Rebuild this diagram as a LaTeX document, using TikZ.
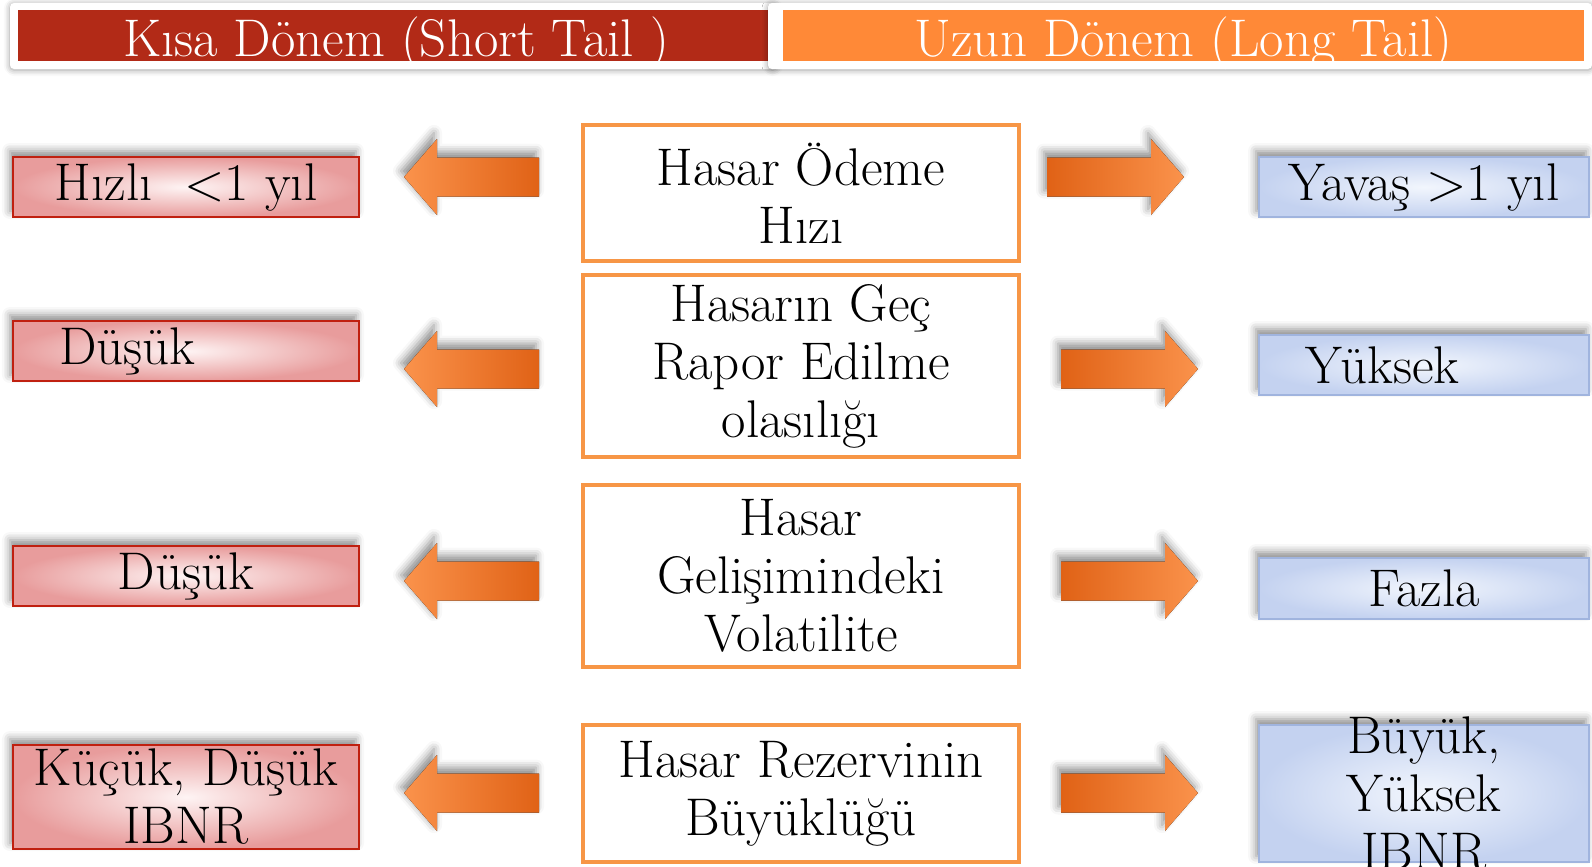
\documentclass[tikz,border=0pt]{standalone}
\usepackage{fontspec}
\usetikzlibrary{shadows.blur}

\definecolor{hdrRed}{RGB}{178,42,23}
\definecolor{hdrOrange}{RGB}{255,137,55}
\definecolor{boxRed}{RGB}{192,32,16}
\definecolor{pinkOut}{RGB}{232,156,156}
\definecolor{pinkIn}{RGB}{254,244,244}
\definecolor{blueOut}{RGB}{196,210,240}
\definecolor{blueIn}{RGB}{242,246,253}
\definecolor{blueLine}{RGB}{160,180,222}
\definecolor{ctrLine}{RGB}{247,150,70}
\definecolor{arrDark}{RGB}{224,98,22}
\definecolor{arrLight}{RGB}{255,155,85}

\tikzset{
  txt/.style={font=\fontsize{26.5}{29}\selectfont, align=center, inner sep=0pt},
  hdr/.style={font=\fontsize{26.5}{28}\selectfont, text=white, inner sep=0pt,
    text height=23pt, text depth=2.5pt, minimum height=25.5pt},
  frame/.style={fill=white, rounded corners=2pt,
    blur shadow={shadow xshift=0pt, shadow yshift=-0.5pt, shadow blur radius=3pt}},
  softshadow/.style={blur shadow={shadow xshift=-1.5pt, shadow yshift=3pt,
    shadow blur radius=4pt, shadow opacity=45}},
  kisabox/.style={txt, softshadow, draw=boxRed, line width=0.9pt,
    inner color=pinkIn, outer color=pinkOut, minimum width=173pt},
  uzunbox/.style={txt, softshadow, draw=blueLine, line width=0.9pt,
    inner color=blueIn, outer color=blueOut, minimum width=165pt},
  ortabox/.style={txt, draw=ctrLine, line width=1.6pt, fill=white,
    minimum width=218pt},
  okL/.style={softshadow, left color=arrLight!85!arrDark, middle color=arrLight,
    right color=arrDark},
  okR/.style={softshadow, left color=arrDark, middle color=arrLight,
    right color=arrLight!85!arrDark},
}

\begin{document}
\begin{tikzpicture}[x=0.5pt, y=-0.5pt]
  \useasboundingbox (0,0) rectangle (1592,867);
  % headers
  \fill[frame] (10,3) rectangle (777,69);
  \node[hdr, fill=hdrRed, minimum width=378pt] (kisaHdr) at (396,35.5)
    {Kısa Dönem (Short Tail )};
  \fill[frame] (768,3) rectangle (1592,69);
  \node[hdr, fill=hdrOrange, minimum width=400.5pt] (uzunHdr) at (1183.5,35.5)
    {Uzun Dönem (Long Tail)};
  % centre column
  \node[ortabox, minimum height=68pt] (hiz) at (801,193) {Hasar Ödeme\\Hızı};
  \node[ortabox, minimum height=91pt] (gec) at (801,366)
    {Hasarın Geç\\Rapor Edilme\\olasılığı};
  \node[ortabox, minimum height=91pt] (vol) at (801,576)
    {Hasar\\Gelişimindeki\\Volatilite};
  \node[ortabox, minimum height=68.5pt] (rez) at (801,793.5)
    {Hasar Rezervinin\\Büyüklüğü};
  % short tail column
  \node[kisabox, minimum height=30pt] (kHiz) at (186,187) {Hızlı~ <1 yıl};
  \node[kisabox, minimum height=30pt, text width=127pt, align=left] (kGec)
    at (186,351) {Düşük};
  \node[kisabox, minimum height=30pt] (kVol) at (186,576) {Düşük};
  \node[kisabox, minimum height=52pt] (kRez) at (186,797)
    {Küçük, Düşük\\IBNR};
  % long tail column
  \node[uzunbox, minimum height=30pt] (uHiz) at (1424,187) {Yavaş >1 yıl};
  \node[uzunbox, minimum height=30pt, text width=119pt, align=left] (uGec)
    at (1424,365) {Yüksek};
  \node[uzunbox, minimum height=30.5pt] (uVol) at (1424,588.5) {Fazla};
  \node[uzunbox, minimum height=68.5pt] (uRez) at (1424,793.5) {};
  \node[txt] (uRezTxt) at (uRez.center) {Büyük,\\Yüksek\\IBNR};
  % arrows to the left
  \foreach \y in {177,369,581,793}{
    \fill[okL] (404,\y) -- (437,\y-38) -- (437,\y-19.5) -- (539,\y-19.5)
      -- (539,\y+19.5) -- (437,\y+19.5) -- (437,\y+38) -- cycle;
  }
  % arrows to the right
  \foreach \x/\y in {1047/177,1061/369,1061/581,1061/793}{
    \fill[okR] (\x+137,\y) -- (\x+104,\y-38) -- (\x+104,\y-19.5)
      -- (\x,\y-19.5) -- (\x,\y+19.5) -- (\x+104,\y+19.5)
      -- (\x+104,\y+38) -- cycle;
  }
\end{tikzpicture}
\end{document}
